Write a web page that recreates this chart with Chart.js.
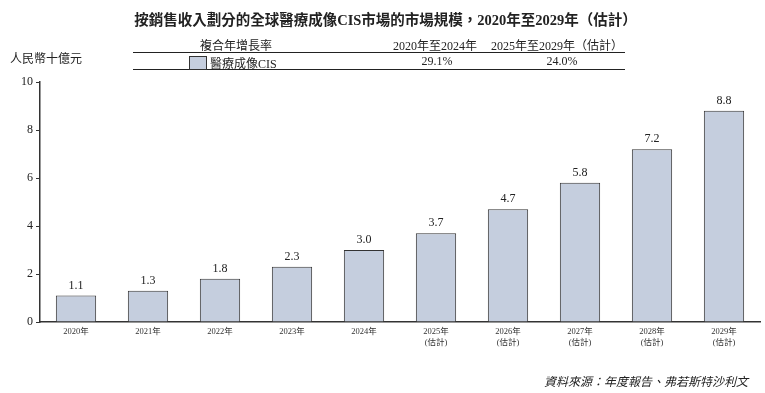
<!DOCTYPE html>
<html>
<head>
<meta charset="utf-8">
<script src="https://cdn.jsdelivr.net/npm/chart.js@4.4.0/dist/chart.umd.min.js"></script>
<style>
body { margin:0; background:#fff; }
#wrap { position:relative; width:765px; height:393px; font-family:'Liberation Serif','Noto Sans CJK TC',serif; color:#222; }
#c { position:absolute; left:0; top:0; }
.t { position:absolute; white-space:nowrap; }
</style>
</head>
<body>
<div id="wrap">
<canvas id="c" width="765" height="393"></canvas>
<div class="t" style="left:0;width:771px;text-align:center;top:8px;font-size:14.5px;font-weight:bold;">按銷售收入劃分的全球醫療成像CIS市場的市場規模，2020年至2029年（估計）</div>
<div class="t" style="left:10px;top:49px;font-size:12px;">人民幣十億元</div>
<div class="t" style="left:133px;top:52px;width:492px;border-top:1.5px solid #222;"></div>
<div class="t" style="left:133px;top:69px;width:492px;border-top:1.5px solid #222;"></div>
<div class="t" style="left:236px;top:36px;font-size:12px;transform:translateX(-50%);">複合年增長率</div>
<div class="t" style="left:435px;top:36px;font-size:12px;transform:translateX(-50%);">2020年至2024年</div>
<div class="t" style="left:557px;top:36px;font-size:12px;transform:translateX(-50%);">2025年至2029年（估計）</div>
<div class="t" style="left:189px;top:56px;width:16px;height:12px;background:#c5cede;border:1px solid #333;"></div>
<div class="t" style="left:210px;top:54px;font-size:12px;" id="lg"></div>
<div class="t" style="left:437px;top:54px;font-size:12px;transform:translateX(-50%);" id="cagr1"></div>
<div class="t" style="left:562px;top:54px;font-size:12px;transform:translateX(-50%);" id="cagr2"></div>
<div class="t" style="right:17px;top:372px;font-size:12px;font-style:italic;">資料來源：年度報告、弗若斯特沙利文</div>
</div>
<script>
// 年份
var years = ["2020年","2021年","2022年","2023年","2024年","2025年","2026年","2027年","2028年","2029年"];
var estimated = [false,false,false,false,false,true,true,true,true,true];
// 市場規模 (人民幣十億元)
var marketSize = [1.1, 1.3, 1.8, 2.3, 3.0, 3.7, 4.7, 5.8, 7.2, 8.8];
var yTicks = [0, 2, 4, 6, 8, 10];
var seriesName = "醫療成像CIS";
var cagr = ["29.1%", "24.0%"];

document.getElementById("lg").textContent = seriesName;
document.getElementById("cagr1").textContent = cagr[0];
document.getElementById("cagr2").textContent = cagr[1];

var labels = [];
for (var i = 0; i < years.length; i++) {
    if (estimated[i]) labels.push([years[i], "(估計)"]);
    else labels.push(years[i]);
}

var serif = "'Liberation Serif','Noto Sans CJK TC',serif";

// valeurs au-dessus des barres
var valueLabels = {
    id: 'valueLabels',
    afterDatasetsDraw: function(chart) {
        var ctx = chart.ctx;
        var meta = chart.getDatasetMeta(0);
        ctx.save();
        ctx.fillStyle = '#222';
        ctx.font = '12px ' + serif;
        ctx.textAlign = 'center';
        ctx.textBaseline = 'bottom';
        meta.data.forEach(function(bar, i) {
            ctx.fillText(marketSize[i].toFixed(1), bar.x, bar.y - 4);
        });
        ctx.restore();
    }
};

var myChart = new Chart(document.getElementById("c"), {
    type: 'bar',
    data: {
        labels: labels,
        datasets: [{
            label: seriesName,
            data: marketSize,
            backgroundColor: '#c5cede',
            borderColor: '#333',
            borderWidth: 1,
            categoryPercentage: 1,
            barPercentage: 0.56
        }]
    },
    options: {
        responsive: false,
        animation: { duration: 0 },
        layout: { padding: { top: 82, right: 5, left: 0, bottom: 0 } },
        plugins: { legend: { display: false }, tooltip: { enabled: false } },
        scales: {
            x: {
                grid: { display: false, drawTicks: false },
                border: { display: true, color: '#333', width: 1.5 },
                ticks: { color: '#333', font: { size: 8.5, family: serif }, padding: 5, maxRotation: 0, autoSkip: false },
                afterFit: function(s) { s.height = 71; }
            },
            y: {
                min: 0, max: 10,
                afterBuildTicks: function(s) { s.ticks = yTicks.map(function(v) { return { value: v }; }); },
                grid: { drawOnChartArea: false, tickLength: 4, color: '#333' },
                border: { display: true, color: '#333', width: 1.5 },
                ticks: { color: '#222', font: { size: 12, family: serif }, padding: 3 },
                afterFit: function(s) { s.width = 40; }
            }
        }
    },
    plugins: [valueLabels]
});
</script>
</body>
</html>
